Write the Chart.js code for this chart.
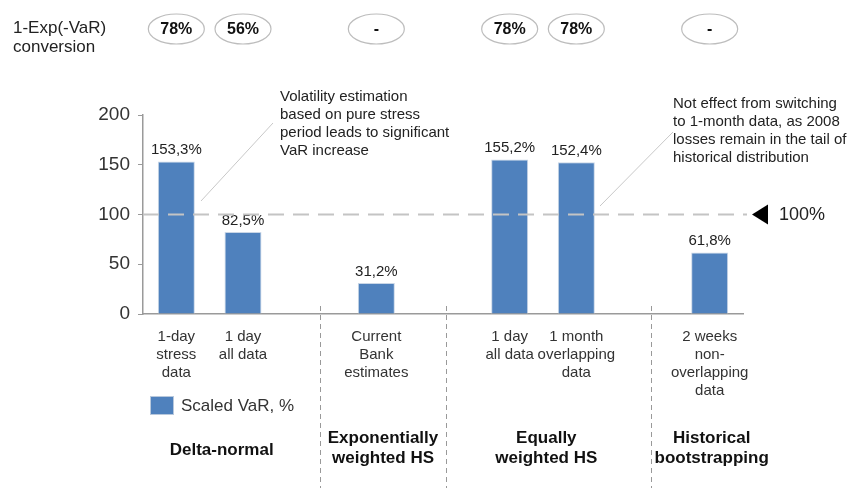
<!DOCTYPE html>
<html lang="en">
<head>
  <meta charset="UTF-8">
  <title>Scaled VaR by method</title>
  <style>
    body {
      margin: 0;
      padding: 0;
      background: #fff;
    }
    .wrap {
      position: relative;
      width: 853px;
      height: 488px;
    }
  </style>
</head>
<body>
<div class="wrap">
  <canvas id="varChart"></canvas>
</div>

<script src="https://cdn.jsdelivr.net/npm/chart.js"></script>
<script>
  // categories (empty strings are the gaps between method groups)
  const categories = [
    ['1-day', 'stress', 'data'],
    ['1 day', 'all data'],
    '',
    ['Current', 'Bank', 'estimates'],
    '',
    ['1 day', 'all data'],
    ['1 month', 'overlapping', 'data'],
    '',
    ['2 weeks', 'non-', 'overlapping', 'data']
  ];
  const scaledVaR = [153.3, 82.5, null, 31.2, null, 155.2, 152.4, null, 61.8];
  const conversion = ['78%', '56%', null, '-', null, '78%', '78%', null, '-'];
  const yTicks = [0, 50, 100, 150, 200];
  const threshold = 100;
  const groupNames = [
    ['Delta-normal'],
    ['Exponentially', 'weighted HS'],
    ['Equally', 'weighted HS'],
    ['Historical', 'bootstrapping']
  ];
  const noteLeft = ['Volatility estimation', 'based on pure stress', 'period leads to significant', 'VaR increase'];
  const noteRight = ['Not effect from switching', 'to 1-month data, as 2008', 'losses remain in the tail of', 'historical distribution'];

  const FONT = "'Liberation Sans', Arial, sans-serif";
  const BLUE = '#4f81bd';

  // slot position helper (fractional category index -> pixel)
  function slotX(chart, i) {
    const xs = chart.scales.x;
    const w = (xs.right - xs.left) / categories.length;
    return xs.left + (i + 0.5) * w;
  }

  const extras = {
    id: 'extras',
    afterDatasetsDraw(chart) {
      const ctx = chart.ctx;
      const y = chart.scales.y;
      const area = chart.chartArea;
      ctx.save();

      // value labels above bars
      const meta = chart.getDatasetMeta(0);
      ctx.font = '15px ' + FONT;
      ctx.fillStyle = '#222';
      ctx.textAlign = 'center';
      ctx.textBaseline = 'bottom';
      meta.data.forEach((bar, i) => {
        if (scaledVaR[i] == null) return;
        ctx.fillText(scaledVaR[i].toFixed(1).replace('.', ',') + '%', bar.x, bar.y - 4);
      });

      // 100% threshold dashed line
      const ty = y.getPixelForValue(threshold);
      ctx.strokeStyle = '#c4c4c4';
      ctx.lineWidth = 2;
      ctx.setLineDash([16, 9]);
      ctx.beginPath();
      ctx.moveTo(area.left, ty);
      ctx.lineTo(area.right + 4, ty);
      ctx.stroke();
      ctx.setLineDash([]);

      // arrow + 100%
      ctx.fillStyle = '#000';
      ctx.beginPath();
      ctx.moveTo(area.right + 9, ty);
      ctx.lineTo(area.right + 25, ty - 10);
      ctx.lineTo(area.right + 25, ty + 10);
      ctx.closePath();
      ctx.fill();
      ctx.font = '18px ' + FONT;
      ctx.fillStyle = '#222';
      ctx.textAlign = 'left';
      ctx.textBaseline = 'middle';
      ctx.fillText(threshold + '%', area.right + 36, ty + 1);

      // vertical dashed dividers between groups
      ctx.strokeStyle = '#999';
      ctx.lineWidth = 1;
      ctx.setLineDash([5, 4]);
      [2.65, 4.54, 7.62].forEach(p => {
        const x = Math.round(slotX(chart, p - 0.5)) + 0.5;
        ctx.beginPath();
        ctx.moveTo(x, area.bottom - 8);
        ctx.lineTo(x, 488);
        ctx.stroke();
      });
      ctx.setLineDash([]);

      // conversion ovals on top
      ctx.font = '17px ' + FONT;
      ctx.fillStyle = '#222';
      ctx.textAlign = 'left';
      ctx.textBaseline = 'middle';
      ctx.fillText('1-Exp(-VaR)', 13, 28);
      ctx.fillText('conversion', 13, 47);
      conversion.forEach((c, i) => {
        if (c == null) return;
        const cx = slotX(chart, i);
        const cy = 29;
        ctx.strokeStyle = '#bdbdbd';
        ctx.lineWidth = 1.2;
        ctx.beginPath();
        ctx.ellipse(cx, cy, 28, 15, 0, 0, Math.PI * 2);
        ctx.stroke();
        ctx.font = 'bold 16px ' + FONT;
        ctx.fillStyle = '#111';
        ctx.textAlign = 'center';
        ctx.fillText(c, cx, cy + 1);
      });

      // annotations
      ctx.strokeStyle = '#c8c8c8';
      ctx.lineWidth = 1;
      ctx.beginPath();
      ctx.moveTo(273, 123);
      ctx.lineTo(201, 201);
      ctx.moveTo(673, 132);
      ctx.lineTo(600, 206);
      ctx.stroke();
      ctx.font = '15px ' + FONT;
      ctx.fillStyle = '#222';
      ctx.textAlign = 'left';
      ctx.textBaseline = 'middle';
      noteLeft.forEach((t, k) => ctx.fillText(t, 280, 97 + k * 18));
      noteRight.forEach((t, k) => ctx.fillText(t, 673, 104 + k * 18));

      // legend
      ctx.fillStyle = BLUE;
      ctx.fillRect(150, 396, 23, 18);
      ctx.strokeStyle = '#b8c8dc';
      ctx.strokeRect(150.5, 396.5, 23, 18);
      ctx.font = '17px ' + FONT;
      ctx.fillStyle = '#333';
      ctx.fillText('Scaled VaR, %', 181, 406);

      // group labels
      ctx.font = 'bold 17px ' + FONT;
      ctx.fillStyle = '#111';
      ctx.textAlign = 'center';
      [0.68, 3.1, 5.55, 8.03].forEach((p, g) => {
        const lines = groupNames[g];
        const x = slotX(chart, p);
        const y0 = lines.length === 1 ? 450 : 438;
        lines.forEach((t, k) => ctx.fillText(t, x, y0 + k * 20));
      });

      ctx.restore();
    }
  };

  new Chart(document.getElementById('varChart'), {
    type: 'bar',
    data: {
      labels: categories,
      datasets: [{
        label: 'Scaled VaR, %',
        data: scaledVaR,
        backgroundColor: BLUE,
        borderColor: '#c9d6e6',
        borderWidth: 1,
        categoryPercentage: 1,
        barPercentage: 0.555
      }]
    },
    options: {
      responsive: true,
      maintainAspectRatio: false,
      animation: false,
      layout: { padding: { top: 115, right: 110, bottom: 0, left: 0 } },
      plugins: {
        legend: { display: false },
        tooltip: { enabled: false }
      },
      scales: {
        x: {
          grid: { display: false },
          border: { color: '#9a9a9a', width: 1.5 },
          ticks: {
            autoSkip: false,
            maxRotation: 0,
            padding: 6,
            color: '#333',
            font: { family: FONT, size: 15, lineHeight: 1.2 }
          },
          afterFit: s => { s.height = 174; }
        },
        y: {
          min: 0,
          max: 200,
          afterBuildTicks: s => { s.ticks = yTicks.map(v => ({ value: v })); },
          grid: { drawOnChartArea: false, drawTicks: true, tickLength: 5, color: '#9a9a9a' },
          border: { color: '#9a9a9a', width: 1.5 },
          ticks: {
            padding: 8,
            color: '#333',
            font: { family: FONT, size: 19 }
          },
          afterFit: s => { s.width = 143; }
        }
      }
    },
    plugins: [extras]
  });
</script>
</body>
</html>
